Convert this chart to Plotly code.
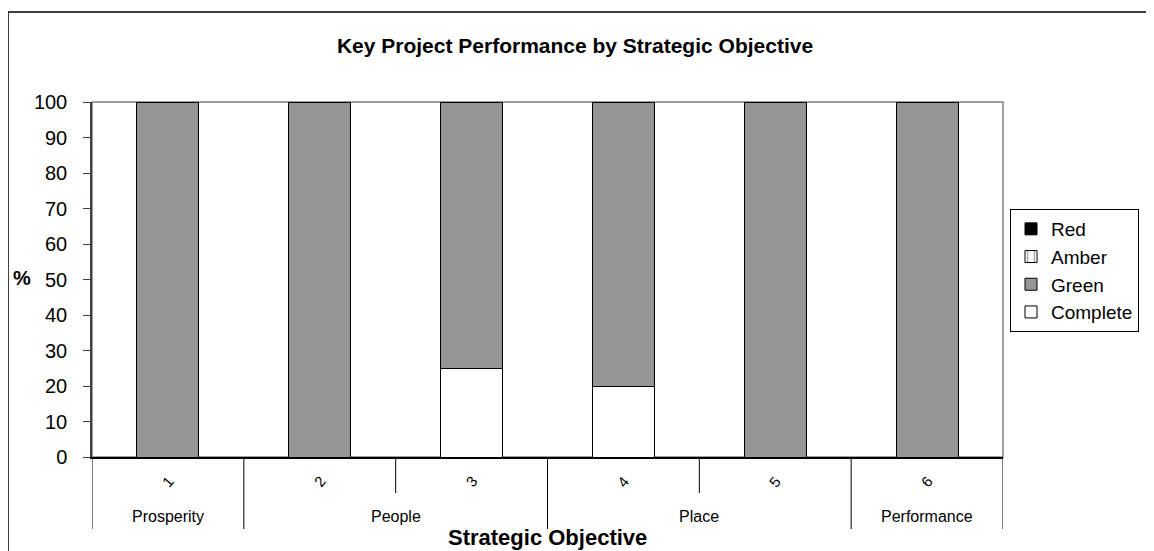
import plotly.graph_objects as go

# ---- data ----
categories = ["1", "2", "3", "4", "5", "6"]
groups = ["Prosperity", "People", "People", "Place", "Place", "Performance"]
complete = [0, 0, 25, 20, 0, 0]
green = [100, 100, 75, 80, 100, 100]
amber = [0, 0, 0, 0, 0, 0]
red = [0, 0, 0, 0, 0, 0]
y_ticks = [0, 10, 20, 30, 40, 50, 60, 70, 80, 90, 100]

FONT = "Liberation Sans, Arial, sans-serif"
OFF = 8                      # page body margin
W, H = 1154 - OFF, 551 - OFF
# plot area in page pixels
L, R, T, B = 92, 1003, 102, 457
PW, PH = R - L, B - T


def px_x(x):
    return (x - L) / PW


def px_y(y):
    return (B - y) / PH


fig = go.Figure()
line = dict(color="black", width=1)
fig.add_bar(x=categories, y=complete, name="Complete",
            marker=dict(color="white", line=line))
fig.add_bar(x=categories, y=green, name="Green",
            marker=dict(color="#969696", line=line))
fig.add_bar(x=categories, y=amber, name="Amber",
            marker=dict(color="white", line=line,
                        pattern=dict(shape="|", fgcolor="black", bgcolor="white", size=8, solidity=0.15)))
fig.add_bar(x=categories, y=red, name="Red",
            marker=dict(color="black", line=line))

shapes = []
# plot-area border (grey top/right)
shapes.append(dict(type="rect", xref="paper", yref="paper", x0=0, x1=1, y0=0, y1=1,
                   line=dict(color="#808080", width=1.5), layer="below"))
# outer chart frame
shapes.append(dict(type="rect", xref="paper", yref="paper",
                   x0=px_x(8), x1=px_x(1175), y0=px_y(580), y1=px_y(12),
                   line=dict(color="black", width=1.5)))
# category dividers
n = len(categories)
for i in range(n + 1):
    b = i - 0.5
    if i == 0 or i == n or groups[i - 1] != groups[i]:
        yb = px_y(529)
    else:
        yb = px_y(493)
    shapes.append(dict(type="line", xref="x", yref="paper", x0=b, x1=b, y0=0, y1=yb,
                       line=dict(color="black", width=1)))

annotations = []
# group labels
seen = []
for g in groups:
    if g not in seen:
        seen.append(g)
for g in seen:
    idx = [i for i, gg in enumerate(groups) if gg == g]
    annotations.append(dict(x=sum(idx) / len(idx), y=px_y(516), xref="x", yref="paper",
                            text=g, showarrow=False, font=dict(family=FONT, size=16, color="black"),
                            xanchor="center", yanchor="middle"))
# rotated inner tick labels
for i, c in enumerate(categories):
    annotations.append(dict(x=i, y=px_y(482), xref="x", yref="paper", text=c, textangle=-50,
                            showarrow=False, font=dict(family=FONT, size=15, color="black"),
                            xanchor="center", yanchor="middle"))
annotations.append(dict(x=px_x(547), y=px_y(537), xref="paper", yref="paper",
                        text="<b>Strategic Objective</b>", showarrow=False,
                        font=dict(family=FONT, size=22, color="black"),
                        xanchor="center", yanchor="middle"))
annotations.append(dict(x=px_x(22), y=px_y(278), xref="paper", yref="paper",
                        text="<b>%</b>", showarrow=False,
                        font=dict(family=FONT, size=20, color="black"),
                        xanchor="center", yanchor="middle"))

fig.update_layout(
    width=W, height=H,
    margin=dict(l=L - OFF, r=W - (R - OFF), t=T - OFF, b=H - (B - OFF), pad=0),
    barmode="stack", bargap=0.592,
    paper_bgcolor="white", plot_bgcolor="white",
    font=dict(family=FONT, color="black"),
    title=dict(text="<b>Key Project Performance by Strategic Objective</b>",
               x=(575 - OFF) / W, xanchor="center",
               y=1 - (46 - OFF) / H, yanchor="middle",
               font=dict(family=FONT, size=21, color="black")),
    showlegend=True,
    legend=dict(traceorder="reversed", x=px_x(1010), y=px_y(209), xanchor="left", yanchor="top",
                bordercolor="black", borderwidth=1, bgcolor="white",
                font=dict(family=FONT, size=19, color="black"),
                itemwidth=30, tracegroupgap=0),
    xaxis=dict(type="category", showticklabels=False, ticks="", showgrid=False,
               showline=True, linecolor="black", linewidth=1.5, zeroline=False,
               range=[-0.5, n - 0.5]),
    yaxis=dict(range=[0, 100], tickvals=y_ticks, ticks="outside", ticklen=7, tickcolor="#404040",
               ticklabelstandoff=12,
               tickfont=dict(family=FONT, size=20, color="black"), showgrid=False,
               showline=True, linecolor="#404040", linewidth=1.5, zeroline=False),
    shapes=shapes, annotations=annotations,
)

fig.write_html("out.html")
